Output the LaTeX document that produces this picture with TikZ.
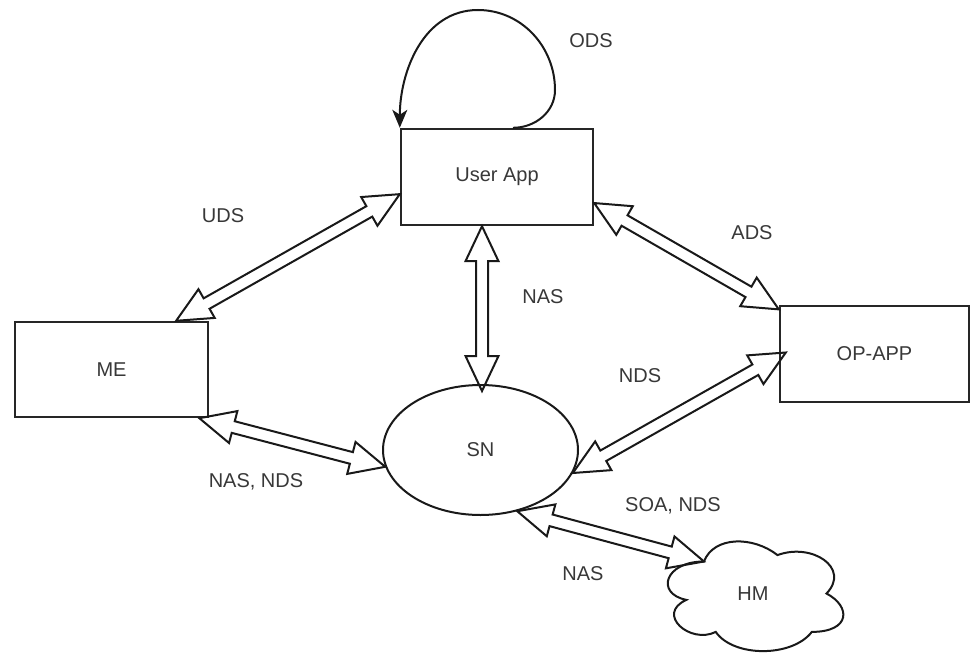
\documentclass[tikz,border=0pt]{standalone}
\usepackage{fontspec}
\setmainfont{Liberation Sans}
\usetikzlibrary{calc,arrows.meta,shapes.geometric}
\newcommand\lblfont{\fontsize{20}{24}\selectfont}
\newcommand\dblarrow[2]{%
  \draw[flexarrow] let \p1=(#1), \p2=(#2),
    \n1={atan2(\y2-\y1,\x2-\x1)}, \n2={veclen(\x2-\x1,\y2-\y1)} in
    {[shift={(\p1)}, rotate=\n1]
     (0pt,0pt) -- (35pt,16.5pt) -- (35pt,6pt) -- (\n2-35pt,6pt) -- (\n2-35pt,16.5pt)
     -- (\n2,0pt) -- (\n2-35pt,-16.5pt) -- (\n2-35pt,-6pt) -- (35pt,-6pt) -- (35pt,-16.5pt) -- cycle};%
}
\begin{document}
\begin{tikzpicture}[x=1pt,y=-1pt,
  rectbox/.style={draw=black!85, line width=2.4pt, fill=white, inner sep=0pt, text=black!78, font=\lblfont},
  ovalbox/.style={ellipse, draw=black!90, line width=2pt, fill=white, inner sep=0pt, text=black!78, font=\lblfont},
  lbl/.style={text=black!78, font=\lblfont, inner sep=0pt},
  flexarrow/.style={draw=black!90, line width=2pt, line join=miter},
  selfloop/.style={draw=black!90, line width=2pt, -{Stealth[length=18pt,width=15pt,inset=5pt]}},
  cloudline/.style={draw=black!90, line width=2pt}]
\useasboundingbox (0,0) rectangle (970,653);

% nodes
\node[rectbox, minimum width=192pt, minimum height=96pt] (ua) at (497,177) {User App};
\node[rectbox, minimum width=193pt, minimum height=95pt] (me) at (111.5,369.5) {ME};
\node[rectbox, minimum width=189pt, minimum height=96pt] (op) at (874.5,354) {OP-APP};
\node[ovalbox, minimum width=195pt, minimum height=130pt] (sn) at (480.5,450) {SN};
\node[lbl] (hm) at (753,593.5) {HM};

% cloud around HM (draw.io cloud outline)
\begin{scope}[shift={($(hm.center)+(-98pt,64pt)$)}, x=196pt, y=-128pt]
  \draw[cloudline] (0.25,0.25) .. controls (0.05,0.25) and (0,0.5) .. (0.16,0.55)
    .. controls (0,0.66) and (0.18,0.9) .. (0.31,0.8)
    .. controls (0.4,1) and (0.7,1) .. (0.8,0.8)
    .. controls (1,0.8) and (1,0.6) .. (0.875,0.5)
    .. controls (1,0.3) and (0.8,0.1) .. (0.625,0.2)
    .. controls (0.5,0.05) and (0.3,0.05) .. (0.25,0.25) -- cycle;
  \coordinate (hmtip) at (0.25,0.25);
\end{scope}

% labels
\node[lbl] (lods) at (591,41) {ODS};
\node[lbl] (luds) at (223,216) {UDS};
\node[lbl] (lads) at (752,233) {ADS};
\node[lbl] (lnas) at (543,297) {NAS};
\node[lbl] (lnds) at (640,376) {NDS};
\node[lbl] (lnasnds) at (256,482) {NAS, NDS};
\node[lbl] (lsoa) at (673,506) {SOA, NDS};
\node[lbl] (lnas2) at (583,574) {NAS};

% helper points
\coordinate (nasT) at ($(ua.south)+(-15pt,0pt)$);
\coordinate (nasB) at ($(nasT |- sn.north)+(0pt,-7pt)$);
\coordinate (ndsT) at ($(op.west)+(7pt,1.5pt)$);
\coordinate (loopS) at ($(ua.north)+(16pt,0pt)$);
\coordinate (loopR) at (555,90);
\coordinate (loopTop) at (478,10);

% connectors
\dblarrow{me.37}{ua.190}
\dblarrow{ua.-15}{op.155}
\dblarrow{nasT}{nasB}
\dblarrow{ndsT}{sn.-14}
\dblarrow{me.-29}{sn.190}
\dblarrow{sn.-59}{hmtip}

% self loop on User App
\draw[selfloop] (loopS) to[out=0,in=-90] (loopR) to[out=90,in=0] (loopTop) to[out=180,in=90] (ua.north west);
\end{tikzpicture}
\end{document}
